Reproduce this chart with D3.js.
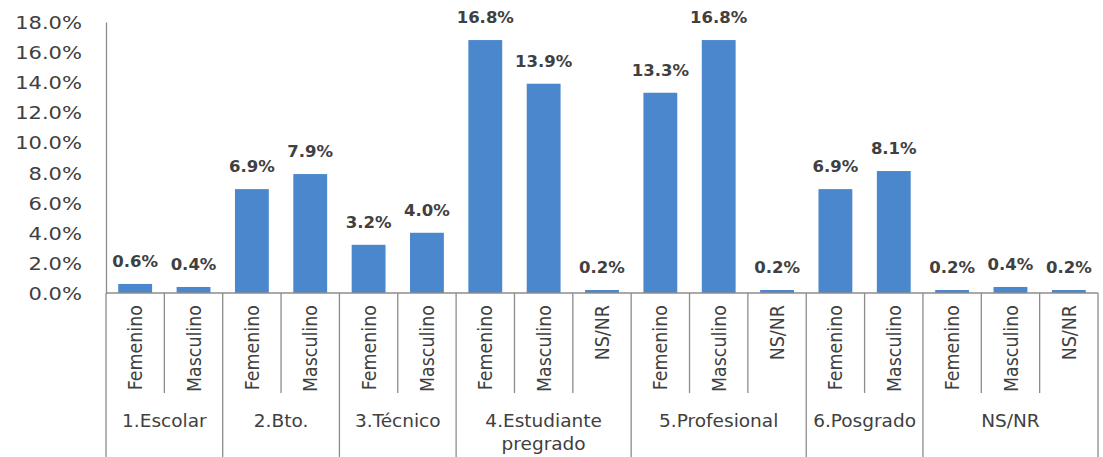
<!DOCTYPE html>
<html>
<head>
<meta charset="utf-8">
<script src="https://cdn.jsdelivr.net/npm/d3@7"></script>
<style>
  body { margin: 0; background: #fff; }
  text { font-family: "DejaVu Sans", sans-serif; fill: #404040; }
</style>
</head>
<body>
<div id="chart"></div>
<script>
const groups = ["1.Escolar", "2.Bto.", "3.Técnico", "4.Estudiante pregrado", "5.Profesional", "6.Posgrado", "NS/NR"];
const subLabels = [
  ["Femenino", "Masculino"],
  ["Femenino", "Masculino"],
  ["Femenino", "Masculino"],
  ["Femenino", "Masculino", "NS/NR"],
  ["Femenino", "Masculino", "NS/NR"],
  ["Femenino", "Masculino"],
  ["Femenino", "Masculino", "NS/NR"]
];
const values = [
  [0.6, 0.4],
  [6.9, 7.9],
  [3.2, 4.0],
  [16.8, 13.9, 0.2],
  [13.3, 16.8, 0.2],
  [6.9, 8.1],
  [0.2, 0.4, 0.2]
];
const yTicks = [0, 2, 4, 6, 8, 10, 12, 14, 16, 18];

const W = 1103, H = 457;
const plotLeft = 106, plotRight = 1098, plotTop = 22, base = 293;
const stretch = 1.17; // the source picture is a little wider than tall

// flatten groups into one list of bars
const bars = [];
const groupStart = [];
groups.forEach((g, gi) => {
  groupStart.push(bars.length);
  subLabels[gi].forEach((s, si) => {
    bars.push({ group: gi, label: s, value: values[gi][si], idx: bars.length });
  });
});
groupStart.push(bars.length);

const svg = d3.select("#chart").append("svg")
  .attr("width", W)
  .attr("height", H);

const x = d3.scaleBand()
  .domain(bars.map(d => d.idx))
  .range([plotLeft, plotRight])
  .paddingInner(0.42)
  .paddingOuter(0.21);

const y = d3.scaleLinear()
  .domain([0, 18])
  .range([base, plotTop]);

// y axis
const yAxis = svg.append("g")
  .attr("transform", "translate(" + plotLeft + ",0)")
  .call(d3.axisLeft(y).tickValues(yTicks).tickSize(0).tickPadding(24 / stretch)
    .tickFormat(d => d.toFixed(1) + "%"));
yAxis.select(".domain").attr("stroke", "#8c8c8c").attr("stroke-width", 1.3);
yAxis.selectAll("text")
  .style("font-size", "18px")
  .attr("fill", "#404040")
  .attr("dy", "0.36em")
  .attr("transform", "scale(" + stretch + ",1)");

// bars
svg.selectAll("rect.bar")
  .data(bars)
  .join("rect")
  .attr("class", "bar")
  .attr("x", d => x(d.idx))
  .attr("width", x.bandwidth())
  .attr("y", d => y(d.value))
  .attr("height", d => y(0) - y(d.value))
  .attr("fill", "#4a87cc");

// value labels
svg.selectAll("text.val")
  .data(bars)
  .join("text")
  .attr("class", "val")
  .attr("x", d => x(d.idx) + x.bandwidth() / 2)
  .attr("y", d => y(d.value) - 17)
  .attr("text-anchor", "middle")
  .style("font-size", "16.5px")
  .style("font-weight", "bold")
  .text(d => d.value.toFixed(1) + "%");

// category axis
const step = x.step();
const bx = i => plotLeft + i * step;
const lineColor = "#8c8c8c";

svg.append("line")
  .attr("x1", plotLeft).attr("x2", plotRight)
  .attr("y1", base).attr("y2", base)
  .attr("stroke", lineColor).attr("stroke-width", 1.3);

// inner separators between sub categories
const innerIdx = d3.range(1, bars.length).filter(i => !groupStart.includes(i));
svg.selectAll("line.inner")
  .data(innerIdx)
  .join("line")
  .attr("class", "inner")
  .attr("x1", bx).attr("x2", bx)
  .attr("y1", base).attr("y2", 393)
  .attr("stroke", lineColor).attr("stroke-width", 1.3);

// group separators
svg.selectAll("line.grp")
  .data(groupStart)
  .join("line")
  .attr("class", "grp")
  .attr("x1", bx).attr("x2", bx)
  .attr("y1", base).attr("y2", H)
  .attr("stroke", lineColor).attr("stroke-width", 1.3);

// rotated sub labels
svg.selectAll("text.sub")
  .data(bars)
  .join("text")
  .attr("class", "sub")
  .attr("transform", d => "translate(" + (x(d.idx) + x.bandwidth() / 2) + ",305) scale(1.12,1) rotate(-90)")
  .attr("dy", "0.36em")
  .attr("text-anchor", "end")
  .style("font-size", "17.5px")
  .text(d => d.label);

// group labels
const gl = svg.selectAll("text.grp")
  .data(groups)
  .join("text")
  .attr("class", "grp")
  .attr("text-anchor", "middle")
  .attr("y", 427)
  .style("font-size", "18.5px");
gl.each(function(g, gi) {
  const cx = (bx(groupStart[gi]) + bx(groupStart[gi + 1])) / 2;
  const words = g === "4.Estudiante pregrado" ? ["4.Estudiante", "pregrado"] : [g];
  d3.select(this).selectAll("tspan")
    .data(words)
    .join("tspan")
    .attr("x", cx)
    .attr("dy", (w, i) => i === 0 ? 0 : 23)
    .text(w => w);
});
</script>
</body>
</html>
